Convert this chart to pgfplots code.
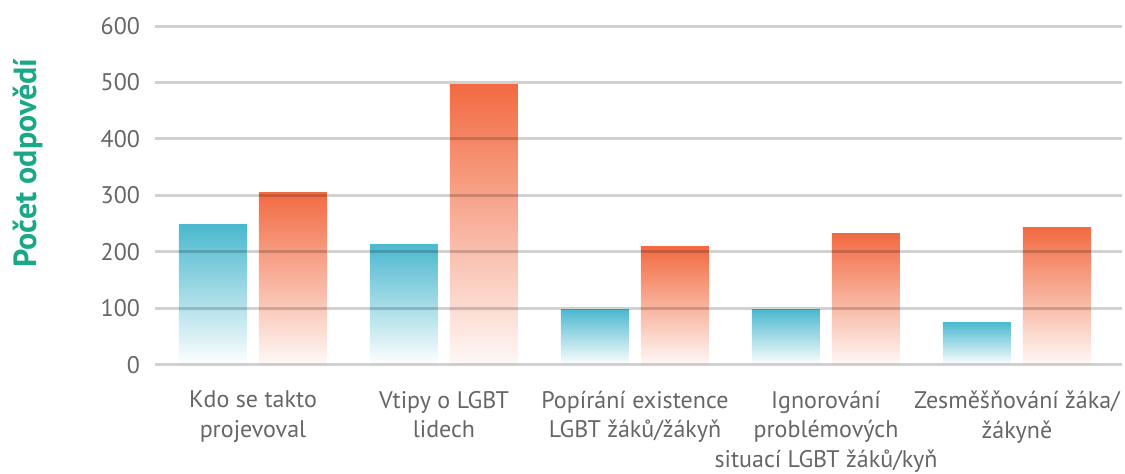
\documentclass[border=0pt]{standalone}
\usepackage{fontspec}
\setmainfont{PT Sans}
\usepackage{pgfplots}
\pgfplotsset{compat=1.18}
\definecolor{tealblue}{HTML}{4BB8CF}
\definecolor{coral}{HTML}{F26A41}
\definecolor{labgreen}{HTML}{1AA887}
\definecolor{ticktext}{HTML}{666666}
\pgfplotsset{
  bluebar/.style={ybar, bar width=34pt, bar shift=-20pt, draw=none, top color=tealblue, bottom color=white},
  orangebar/.style={ybar, bar width=34pt, bar shift=20pt, draw=none, top color=coral, bottom color=coral!4},
}
\begin{document}
\begin{tikzpicture}
\begin{axis}[
  scale only axis,
  width=483.5pt, height=169.5pt,
  xmin=-0.513, xmax=4.55,
  ymin=0, ymax=600,
  ytick={0,100,...,600},
  xtick={0,1,2,3,4},
  xticklabels={{Kdo se takto\\projevoval},{Vtipy o LGBT\\lidech},{Popírání existence\\LGBT žáků/žákyň},{Ignorování\\problémových\\situací LGBT žáků/kyň},{Zesměšňování žáka/\\žákyně}},
  axis line style={draw=none},
  major tick length=0pt,
  ymajorgrids,
  grid style={draw=black, draw opacity=0.18, line width=1.5pt},
  axis on top,
  /pgf/number format/assume math mode=true,
  tick label style={font=\fontsize{12}{14.8}\selectfont, text=ticktext},
  xticklabel style={align=center, yshift=-9.5pt},
  yticklabel style={xshift=-4pt},
  clip=false,
]
% blue series
\addplot[bluebar] coordinates {(0,248)};
\addplot[bluebar] coordinates {(1,214)};
\addplot[bluebar] coordinates {(2,99)};
\addplot[bluebar] coordinates {(3,99)};
\addplot[bluebar] coordinates {(4,76)};
% orange series
\addplot[orangebar] coordinates {(0,306)};
\addplot[orangebar] coordinates {(1,497)};
\addplot[orangebar] coordinates {(2,209)};
\addplot[orangebar] coordinates {(3,232)};
\addplot[orangebar] coordinates {(4,244)};
\coordinate (yl) at (rel axis cs:0,0.596);
\coordinate (sw) at (rel axis cs:0,0);
\coordinate (ne) at (rel axis cs:1,1);
\end{axis}
\node[rotate=90, text=labgreen, font=\fontsize{16}{18}\bfseries\selectfont] at ([xshift=-63.5pt]yl) {Počet odpovědí};
\pgfresetboundingbox
\path[use as bounding box] ([xshift=-77.5pt,yshift=-54.5pt]sw) rectangle ([xshift=1.5pt,yshift=13pt]ne);
\end{tikzpicture}
\end{document}
